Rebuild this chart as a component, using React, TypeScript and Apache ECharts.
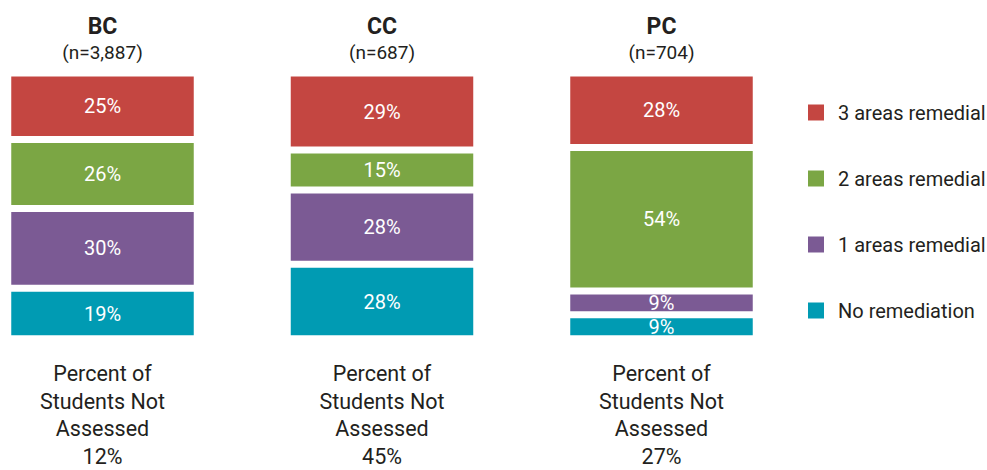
import React, { useEffect, useRef } from "react";
import * as echarts from "echarts";

const groups = ["BC", "CC", "PC"];
const groupN = ["(n=3,887)", "(n=687)", "(n=704)"];
const notAssessed = ["12%", "45%", "27%"];

const seriesNames = ["No remediation", "1 areas remedial", "2 areas remedial", "3 areas remedial"];
const noRemediation = [19, 28, 9];
const oneArea = [30, 28, 9];
const twoAreas = [26, 15, 54];
const threeAreas = [25, 29, 28];
const seriesColors = ["#009BB3", "#7B5A94", "#7BA644", "#C44641"];

const FONT = "Roboto";
const TEXT = "#231F20";

export default function App() {
  const ref = useRef<HTMLDivElement>(null);
  useEffect(() => {
    if (!ref.current) return;
    const chart = echarts.init(ref.current, null, { renderer: "svg" });
    const values = [noRemediation, oneArea, twoAreas, threeAreas];
    const series = seriesNames.map((name, i) => ({
      name,
      type: "bar",
      stack: "total",
      data: values[i],
      barWidth: 189.5,
      clip: false,
      itemStyle: { color: seriesColors[i], borderColor: "#ffffff", borderWidth: 3.5 },
      label: {
        show: true,
        position: "inside",
        formatter: "{c}%",
        color: "#ffffff",
        fontFamily: FONT,
        fontSize: 20,
      },
    }));
    chart.setOption({
      animation: false,
      backgroundColor: "#ffffff",
      grid: {
        left: -37.25,
        width: 838.5,
        top: 73,
        height: 265.75,
        containLabel: false,
        outerBoundsMode: "none",
      },
      legend: {
        orient: "vertical",
        left: 806,
        top: 102.5,
        padding: 0,
        itemWidth: 18,
        itemHeight: 18,
        itemGap: 46,
        icon: "rect",
        data: ["3 areas remedial", "2 areas remedial", "1 areas remedial", "No remediation"],
        textStyle: {
          fontFamily: FONT,
          fontSize: 20,
          lineHeight: 18,
          color: TEXT,
          padding: [0, 0, 0, 8],
        },
      },
      xAxis: [
        {
          type: "category",
          data: groups,
          position: "top",
          axisLine: { show: false },
          axisTick: { show: false },
          axisLabel: {
            margin: 8,
            formatter: (v: string, idx: number) => `{b|${v}}\n{n|${groupN[idx]}}`,
            rich: {
              b: { fontFamily: FONT, fontSize: 23, fontWeight: "bold", color: TEXT, lineHeight: 26 },
              n: { fontFamily: FONT, fontSize: 19, color: TEXT, lineHeight: 26 },
            },
          },
        },
        {
          type: "category",
          data: groups,
          position: "bottom",
          axisLine: { show: false },
          axisTick: { show: false },
          axisLabel: {
            margin: 21.5,
            formatter: (_v: string, idx: number) =>
              `Percent of\nStudents Not\nAssessed\n${notAssessed[idx]}`,
            fontFamily: FONT,
            fontSize: 21.5,
            lineHeight: 27.4,
            color: TEXT,
          },
        },
      ],
      yAxis: { type: "value", min: 0, max: 100, show: false },
      series,
    });
    return () => chart.dispose();
  }, []);
  return (
    <div
      ref={ref}
      style={{ position: "fixed", left: 0, top: 0, width: 987, height: 470 }}
    />
  );
}
